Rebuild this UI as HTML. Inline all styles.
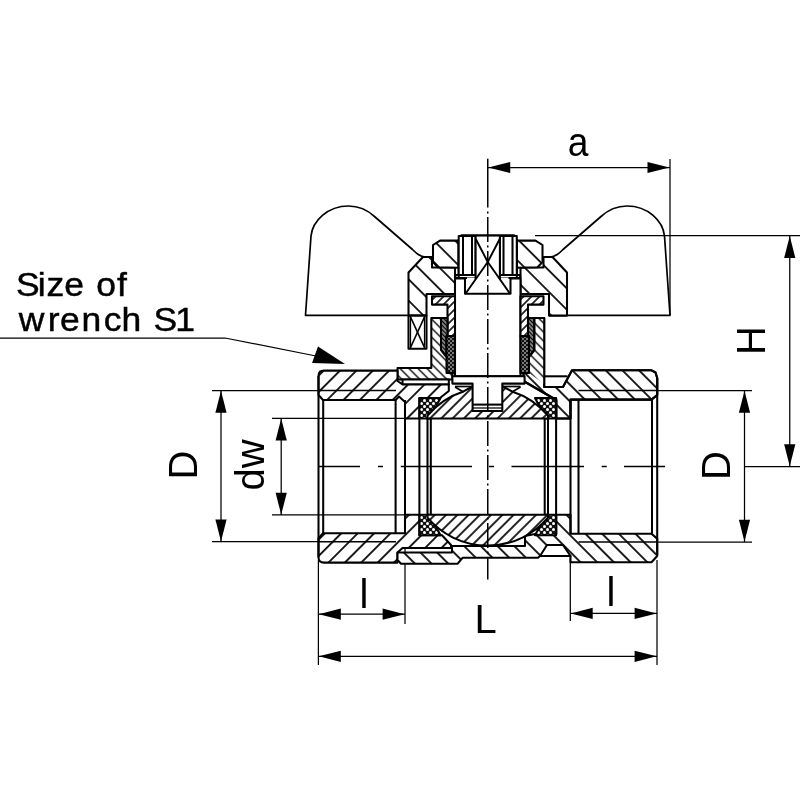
<!DOCTYPE html>
<html><head><meta charset="utf-8"><title>Ball valve drawing</title>
<style>
html,body{margin:0;padding:0;background:#fff;}
svg{display:block;filter:grayscale(1);}
text{font-family:"Liberation Sans",sans-serif;fill:#000;}
.o{fill:none;stroke:#000;stroke-width:2.05;stroke-linejoin:round;stroke-linecap:butt;}
.t{fill:none;stroke:#000;stroke-width:1.25;}
.w{fill:none;stroke:#000;stroke-width:1.7;stroke-linejoin:round;}
.ar{fill:#000;stroke:none;}
</style></head><body>
<svg width="800" height="800" viewBox="0 0 800 800">
<defs>

<pattern id="hF" patternUnits="userSpaceOnUse" width="11.597" height="11.597" patternTransform="rotate(45) translate(-1.98 0)"><rect width="11.597" height="11.597" fill="#fff"/><line x1="5.7985" y1="-1" x2="5.7985" y2="12.597" stroke="#000" stroke-width="1.75"/></pattern>
<pattern id="hB" patternUnits="userSpaceOnUse" width="11.809" height="11.809" patternTransform="rotate(-45) translate(-4.808 0)"><rect width="11.809" height="11.809" fill="#fff"/><line x1="5.9045" y1="-1" x2="5.9045" y2="12.809" stroke="#000" stroke-width="1.75"/></pattern>
<pattern id="hFb" patternUnits="userSpaceOnUse" width="7.955" height="7.955" patternTransform="rotate(45) translate(-0.619 0)"><rect width="7.955" height="7.955" fill="#fff"/><line x1="3.9775" y1="-1" x2="3.9775" y2="8.955" stroke="#000" stroke-width="1.7"/></pattern>
<pattern id="hBh" patternUnits="userSpaceOnUse" width="15.061" height="15.061" patternTransform="rotate(-45) translate(-6.47 0)"><rect width="15.061" height="15.061" fill="#fff"/><line x1="7.5305" y1="-1" x2="7.5305" y2="16.061" stroke="#000" stroke-width="1.7"/></pattern>
<pattern id="hFg" patternUnits="userSpaceOnUse" width="5.657" height="5.657" patternTransform="rotate(45) translate(0 0)"><rect width="5.657" height="5.657" fill="#fff"/><line x1="2.8285" y1="-1" x2="2.8285" y2="6.657" stroke="#000" stroke-width="1.6"/></pattern>
<pattern id="hBn" patternUnits="userSpaceOnUse" width="6.364" height="6.364" patternTransform="rotate(-45) translate(0 0)"><rect width="6.364" height="6.364" fill="#fff"/><line x1="3.182" y1="-1" x2="3.182" y2="7.364" stroke="#000" stroke-width="1.4"/></pattern>
<pattern id="hDk" patternUnits="userSpaceOnUse" width="3.0" height="3.0" patternTransform="rotate(-45) translate(0 0)"><rect width="3.0" height="3.0" fill="#fff"/><line x1="1.5" y1="-1" x2="1.5" y2="4.0" stroke="#000" stroke-width="2.0"/></pattern>
<pattern id="dots" patternUnits="userSpaceOnUse" width="4" height="4"><rect width="4" height="4" fill="#111"/><circle cx="1" cy="1" r="0.8" fill="#fff"/><circle cx="3" cy="3" r="0.8" fill="#fff"/></pattern>
<pattern id="seal" patternUnits="userSpaceOnUse" width="6" height="6"><rect width="6" height="6" fill="#111"/><circle cx="1.5" cy="1.5" r="1.5" fill="#fff"/><circle cx="4.5" cy="4.5" r="1.5" fill="#fff"/></pattern>
</defs>
<rect width="800" height="800" fill="#fff"/>
<g id="dims">
<line class="t" x1="670" y1="159" x2="670" y2="315" />
<line class="t" x1="487.75" y1="167.5" x2="670" y2="167.5" />
<line class="t" x1="535" y1="235.6" x2="800" y2="235.6" />
<line class="t" x1="744.5" y1="466.6" x2="800" y2="466.6" />
<line class="t" x1="789.75" y1="236" x2="789.75" y2="466" />
<line class="t" x1="657" y1="390.5" x2="752" y2="390.5" />
<line class="t" x1="657" y1="542" x2="752" y2="542" />
<line class="t" x1="744.5" y1="391" x2="744.5" y2="542" />
<line class="t" x1="212" y1="390.6" x2="400" y2="390.6" />
<line class="t" x1="212" y1="541.7" x2="400" y2="541.7" />
<line class="t" x1="221" y1="391" x2="221" y2="541" />
<line class="t" x1="272" y1="418.4" x2="430" y2="418.4" />
<line class="t" x1="272" y1="514.9" x2="430" y2="514.9" />
<line class="t" x1="281.2" y1="419" x2="281.2" y2="515" />
<line class="t" x1="318.4" y1="560" x2="318.4" y2="665" />
<line class="t" x1="405" y1="534" x2="405" y2="624" />
<line class="t" x1="570.3" y1="534" x2="570.3" y2="621" />
<line class="t" x1="657" y1="560" x2="657" y2="665" />
<line class="t" x1="318.4" y1="614.2" x2="405" y2="614.2" />
<line class="t" x1="570.3" y1="613.4" x2="657" y2="613.4" />
<line class="t" x1="318.4" y1="656.3" x2="657" y2="656.3" />
<polyline class="t" points="0,338 225,338 316,356"/>
</g>
<polygon class="ar" points="488.25,167.5 510.25,161.9 510.25,173.1"/>
<polygon class="ar" points="669.5,167.5 647.5,161.9 647.5,173.1"/>
<polygon class="ar" points="789.75,236 784.15,258 795.35,258"/>
<polygon class="ar" points="789.75,466.3 784.15,444.3 795.35,444.3"/>
<polygon class="ar" points="744.5,390.8 738.9,412.8 750.1,412.8"/>
<polygon class="ar" points="744.5,541.8 738.9,519.8 750.1,519.8"/>
<polygon class="ar" points="221,390.8 215.4,412.8 226.6,412.8"/>
<polygon class="ar" points="221,541.5 215.4,519.5 226.6,519.5"/>
<polygon class="ar" points="281.2,418.6 275.59999999999997,440.6 286.8,440.6"/>
<polygon class="ar" points="281.2,514.7 275.59999999999997,492.70000000000005 286.8,492.70000000000005"/>
<polygon class="ar" points="318.8,614.2 340.8,608.6 340.8,619.8000000000001"/>
<polygon class="ar" points="404.6,614.2 382.6,608.6 382.6,619.8000000000001"/>
<polygon class="ar" points="570.7,613.4 592.7,607.8 592.7,619.0"/>
<polygon class="ar" points="656.6,613.4 634.6,607.8 634.6,619.0"/>
<polygon class="ar" points="318.8,656.3 340.8,650.6999999999999 340.8,661.9"/>
<polygon class="ar" points="656.6,656.3 634.6,650.6999999999999 634.6,661.9"/>
<polygon class="ar" points="318,346.4 312,363 345,364"/>
<path class="w" d="M 549,315.3 L 670,315.3 L 664.5,236 C 663,221 648,206 627,206 C 615,206 607,211 601,216.5 L 563,249.5 C 559,253.5 556,256.5 550,257" style="fill:none"/>
<path class="w" d="M 426.5,315.3 L 305.5,315.3 L 311,236 C 312.5,221 327.5,206 348.5,206 C 360.5,206 368.5,211 374.5,216.5 L 412.5,249.5 C 416.5,253.5 419.5,256.5 425.5,257" style="fill:none"/>
<polygon class="o" points="423,257 432,257 432,267.5 455,267.5 455,294 426.5,294 426.5,315.6 408.5,315.6 408.5,272.5" style="fill:url(#hBh)" />
<polygon class="o" points="552.5,257 543.5,257 543.5,267.5 520.5,267.5 520.5,294 549.0,294 549.0,315.6 567.0,315.6 567.0,272.5" style="fill:url(#hBh)" />
<polygon class="o" points="408.5,315.6 426.5,315.6 426.5,348.8 408.5,348.8" style="fill:#fff" />
<line class="w" x1="410.5" y1="317" x2="424.5" y2="347.5" />
<line class="w" x1="424.5" y1="317" x2="410.5" y2="347.5" />
<line class="t" x1="410.5" y1="316" x2="410.5" y2="348.8" />
<line class="t" x1="424.5" y1="316" x2="424.5" y2="348.8" />
<path class="o" d="M 440,240.6 L 458.6,240.6 L 458.6,267.8 L 438,267.3 L 433,262 L 433,245 Z" style="fill:url(#hBh)"/>
<path class="o" d="M 535.5,240.6 L 516.9,240.6 L 516.9,267.8 L 537.5,267.3 L 542.5,262 L 542.5,245 Z" style="fill:url(#hBh)"/>
<polygon class="o" points="461,235.6 514.5,235.6 516.8,240 516.8,275 458.7,275 458.7,240" style="fill:#fff" />
<line class="o" x1="463" y1="236" x2="463" y2="275" />
<line class="o" x1="512.5" y1="236" x2="512.5" y2="275" />
<line class="o" x1="472" y1="236" x2="472" y2="275" />
<line class="o" x1="503.5" y1="236" x2="503.5" y2="275" />
<line class="o" x1="475.6" y1="236" x2="475.6" y2="275" />
<line class="o" x1="499.9" y1="236" x2="499.9" y2="275" />
<polygon class="o" points="455.4,275 458.7,275 458.7,278.4 455.4,278.4" style="fill:#fff" />
<polygon class="o" points="520.1,275 516.8,275 516.8,278.4 520.1,278.4" style="fill:#fff" />
<polygon class="o" points="455,278.4 520.5,278.4 520.5,376.3 455,376.3" style="fill:#fff" />
<polygon class="o" points="458.7,236 475.6,236 475.6,275 458.7,275" style="fill:#fff" />
<polygon class="o" points="516.8,236 499.9,236 499.9,275 516.8,275" style="fill:#fff" />
<line class="o" x1="463" y1="236" x2="463" y2="275" />
<line class="o" x1="472" y1="236" x2="472" y2="275" />
<line class="o" x1="512.5" y1="236" x2="512.5" y2="275" />
<line class="o" x1="503.5" y1="236" x2="503.5" y2="275" />
<line class="o" x1="461" y1="235.6" x2="514.5" y2="235.6" />
<rect x="465" y="278" width="45.5" height="15.8" fill="#fff"/>
<polyline class="o" points="465,277.5 465,293.8 510.5,293.8 510.5,277.5"/>
<polyline class="o" points="456,278 467,278"/><polyline class="o" points="519.5,278 508.5,278"/>
<rect x="475.6" y="236.6" width="24.299999999999955" height="42.4" fill="#fff"/>
<line class="o" x1="475.6" y1="236" x2="475.6" y2="279" />
<line class="o" x1="499.9" y1="236" x2="499.9" y2="279" />
<polyline class="o" style="stroke-width:1.9" points="475.8,239 487.75,262 499.7,239"/>
<polyline class="o" style="stroke-width:1.9" points="466,293 487.75,262 509.5,293"/>
<polygon class="o" points="432,296.3 455,296.3 455,336 447.5,336 447.5,304.6 432,304.6" style="fill:url(#hFg)" />
<polygon class="o" points="543.5,296.3 520.5,296.3 520.5,336 528.0,336 528.0,304.6 543.5,304.6" style="fill:url(#hFg)" />
<polygon class="o" points="441,318 447.5,318 447.5,336 446.5,336 446.5,357 441,350" style="fill:url(#hDk)" />
<polygon class="o" points="534.5,318 528.0,318 528.0,336 529.0,336 529.0,357 534.5,350" style="fill:url(#hDk)" />
<polygon class="o" points="446.5,336 455,336 455,373 446.5,373" style="fill:url(#dots)" />
<polygon class="o" points="529.0,336 520.5,336 520.5,373 529.0,373" style="fill:url(#dots)" />
<polygon class="o" points="397.5,368 431.3,368 431.3,318 441,318 441,350 446.5,357 446.5,373 452.4,373 452.4,379.4 397.5,379.4" style="fill:url(#hBn)" />
<polygon class="o" points="402.5,379.4 448.8,379.4 448.8,384.4 402.5,384.4" style="fill:#fff" />
<polygon class="o" points="534.5,318 544.2,318 544.2,387 563,387 572,370.3 651.5,370.3 655.5,372.5 657.2,378 657.2,395 651.5,399.6 570.5,399.6 570.5,418.5 556.3,418.5 556.3,400 523.5,381 523.5,373 529.0,373 529.0,357 534.5,350" style="fill:url(#hB)" />
<polygon points="534.5,318 544.2,318 544.2,384 529.0,373 529.0,357 534.5,350" fill="url(#hBn)" stroke="none"/>
<polygon class="o" points="534.5,318 544.2,318 544.2,387 563,387 572,370.3 651.5,370.3 655.5,372.5 657.2,378 657.2,395 651.5,399.6 570.5,399.6 570.5,418.5 556.3,418.5 556.3,400 523.5,381 523.5,373 529.0,373 529.0,357 534.5,350" style="fill:none" />
<line class="o" x1="544.2" y1="376.3" x2="567.5" y2="376.3" />
<path class="o" d="M 324,370.6 L 397.5,370.6 L 397.5,381 L 402.5,384.4 L 448.8,384.4 L 448.8,391 L 440,398 L 419.4,398 L 419.4,418.5 L 405,418.5 L 405,402 L 399,396.5 L 395.6,400 L 323,400 L 318.5,395 L 318.5,376 Q 318.5,370.6 324,370.6 Z" style="fill:url(#hF)"/>
<path class="o" d="M 324,562.6 L 397.5,562.6 L 397.5,552.5 L 402.5,548 L 451,548 L 451,545 L 442,535.2 L 419.4,535.2 L 419.4,514.7 L 405,514.7 L 405,533.2 L 323,533.2 L 318.5,538.2 L 318.5,557.2 Q 318.5,562.6 324,562.6 Z" style="fill:url(#hF)"/>
<polygon class="o" points="397.5,552.5 452,552.5 452,546 525,546 525,536 535,534 556.3,534 556.3,514.8 570.5,514.8 570.5,533.8 651.5,533.8 657.2,538.5 657.2,556 651.5,562.3 570.5,562.3 570.5,556 540,556 538,557.8 462.5,557.8 457.5,563.8 401,563.8 397.5,560" style="fill:url(#hB)" />
<polygon class="o" points="547,545 563,545 570.5,556 540,556" style="fill:#fff" />
<polygon class="o" points="419.4,398 440.5,398 431,416 431,418.5 419.4,418.5" style="fill:url(#seal)" />
<polygon class="o" points="556.1,398 535.0,398 544.5,416 544.5,418.5 556.1,418.5" style="fill:url(#seal)" />
<polygon class="o" points="419.4,535.2 440.5,535.2 431,517.2 431,514.7 419.4,514.7" style="fill:url(#seal)" />
<polygon class="o" points="556.1,535.2 535.0,535.2 544.5,517.2 544.5,514.7 556.1,514.7" style="fill:url(#seal)" />
<path class="o" d="M 427.5,418.5 L 427.5,415.5 A 79 79 0 0 1 463.5,391.41 L 472.6,386.5 L 502.9,386.5 L 512.0,391.41 A 79 79 0 0 1 548.0,415.5 L 548.0,418.5 Z" style="fill:url(#hFb)"/>
<path class="o" d="M 427.5,514.7 L 427.5,517.7 A 79 79 0 0 0 548.0,517.7 L 548.0,514.7 Z" style="fill:url(#hFb)"/>
<line class="o" x1="419.4" y1="418.5" x2="419.4" y2="514.7" />
<line class="o" x1="556.1" y1="418.5" x2="556.1" y2="514.7" />
<line class="o" x1="427.5" y1="418.5" x2="427.5" y2="514.7" />
<line class="o" x1="548.0" y1="418.5" x2="548.0" y2="514.7" />
<line class="o" x1="430.8" y1="418.5" x2="430.8" y2="514.7" />
<line class="o" x1="544.7" y1="418.5" x2="544.7" y2="514.7" />
<line class="o" x1="395.6" y1="400" x2="395.6" y2="533.2" />
<line class="o" x1="405" y1="400" x2="405" y2="533.2" />
<line class="o" x1="570.5" y1="399.6" x2="570.5" y2="533.6" />
<line class="o" x1="578.5" y1="399.6" x2="578.5" y2="533.6" />
<line class="o" x1="318.5" y1="376" x2="318.5" y2="557.2" />
<line class="o" x1="323.2" y1="400" x2="323.2" y2="533.2" />
<line class="o" x1="657.2" y1="378" x2="657.2" y2="555.2" />
<line class="o" x1="652" y1="399.6" x2="652" y2="533.6" />
<line class="t" x1="318.5" y1="390.6" x2="396" y2="390.6" style="stroke-width:1.5"/>
<line class="t" x1="318.5" y1="541.7" x2="396" y2="541.7" style="stroke-width:1.5"/>
<line class="t" x1="578.5" y1="390.5" x2="657.2" y2="390.5" style="stroke-width:1.5"/>
<line class="t" x1="578.5" y1="542" x2="657.2" y2="542" style="stroke-width:1.5"/>
<polygon class="o" points="452.4,376.3 524.6,376.3 524.6,383.6 502.3,383.6 502.3,411 472.6,411 472.6,383.6 452.4,383.6" style="fill:#fff" />
<line class="o" x1="472.6" y1="404.6" x2="502.3" y2="404.6" />
<line class="t" x1="472.6" y1="408" x2="502.3" y2="408" />
<polyline class="w" points="455,386.5 472.6,386.5"/><polyline class="w" points="455,387 463.5,392"/>
<polyline class="w" points="520.5,386.5 502.9,386.5"/><polyline class="w" points="520.5,387 512.0,392"/>
<path class="t" style="stroke-width:1.5" d="M 487.75,158.8 V 207.5 M 487.75,211.5 V 213.5"/>
<line class="t" style="stroke-width:1.5" x1="487.75" y1="217" x2="487.75" y2="579.5" stroke-dasharray="25 3.5 2 3.5"/>
<path class="t" style="stroke-width:1.5" d="M 319,466.6 H 360 M 378,466.6 H 383 M 400.8,466.6 H 472 M 489,466.6 H 494 M 511.5,466.6 H 584 M 601.7,466.6 H 606.7 M 624,466.6 H 665"/>
<text transform="scale(1.06 1)" x="15.09 35.66 43.87 60.57 79.25 90.85 110.47" y="296" font-size="33.5" style="stroke:#000;stroke-width:0.45">Size of</text>
<text transform="scale(1.06 1)" x="17.69 45.0 56.6 76.89 97.92 114.62 133.96 144.81 165.38" y="331" font-size="33.5" style="stroke:#000;stroke-width:0.45">wrench S1</text>
<text transform="translate(578,155.5) scale(0.93 1)" font-size="40" text-anchor="middle">a</text>
<text transform="translate(765,340.5) rotate(-90)" font-size="40" text-anchor="middle">H</text>
<text transform="translate(730,465.5) rotate(-90)" font-size="40" text-anchor="middle">D</text>
<text transform="translate(196.6,465) rotate(-90)" font-size="40" text-anchor="middle">D</text>
<text transform="translate(263.6,465) rotate(-90)" font-size="40" text-anchor="middle">dw</text>
<text x="364" y="608" font-size="40" text-anchor="middle">l</text>
<text x="611" y="606.2" font-size="40" text-anchor="middle">l</text>
<text x="485.5" y="633" font-size="40" text-anchor="middle">L</text>
</svg></body></html>
